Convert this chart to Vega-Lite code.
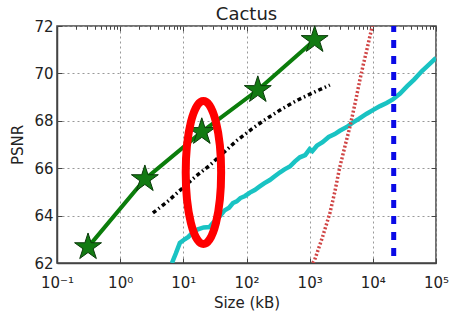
{
  "$schema": "https://vega.github.io/schema/vega-lite/v6.json",
  "width": 379,
  "height": 237,
  "autosize": {"type": "none"},
  "padding": {"left": 57, "top": 26, "right": 13, "bottom": 56},
  "background": "white",
  "title": {"text": "Cactus", "fontSize": 18, "fontWeight": "normal", "font": "DejaVu Sans", "color": "#222", "offset": -5},
  "config": {
    "font": "DejaVu Sans",
    "view": {"stroke": "#444", "strokeWidth": 1.5},
    "axis": {"labelFont": "DejaVu Sans", "titleFont": "DejaVu Sans", "labelColor": "#222", "titleColor": "#222", "tickColor": "#444", "domainColor": "#444", "domainWidth": 1.5}
  },
  "datasets": {
    "stars": [
      {"size": 0.31, "psnr": 62.67},
      {"size": 2.46, "psnr": 65.54},
      {"size": 19.6, "psnr": 67.53},
      {"size": 151, "psnr": 69.3},
      {"size": 1200, "psnr": 71.41}
    ],
    "dashdot": [
      {"size": 3.3, "psnr": 64.11},
      {"size": 5.5, "psnr": 64.57},
      {"size": 15.3, "psnr": 65.63},
      {"size": 26.4, "psnr": 66.13},
      {"size": 70.5, "psnr": 67.17},
      {"size": 122, "psnr": 67.66},
      {"size": 195, "psnr": 68.04},
      {"size": 363, "psnr": 68.5},
      {"size": 650, "psnr": 68.88},
      {"size": 1207, "psnr": 69.22},
      {"size": 2090, "psnr": 69.51}
    ],
    "cyan": [
      {"size": 6.6, "psnr": 62.0}, {"size": 7.6, "psnr": 62.4}, {"size": 8.8, "psnr": 62.85},
      {"size": 10.5, "psnr": 63.0}, {"size": 12, "psnr": 63.1}, {"size": 14.2, "psnr": 63.3},
      {"size": 17, "psnr": 63.42}, {"size": 21, "psnr": 63.5}, {"size": 26, "psnr": 63.52},
      {"size": 30, "psnr": 63.72}, {"size": 34, "psnr": 63.85}, {"size": 38, "psnr": 63.98},
      {"size": 45, "psnr": 64.22}, {"size": 53, "psnr": 64.33}, {"size": 61, "psnr": 64.53},
      {"size": 70, "psnr": 64.6}, {"size": 80, "psnr": 64.74}, {"size": 95, "psnr": 64.83},
      {"size": 113, "psnr": 64.97}, {"size": 135, "psnr": 65.08}, {"size": 160, "psnr": 65.22},
      {"size": 190, "psnr": 65.36}, {"size": 234, "psnr": 65.5}, {"size": 280, "psnr": 65.66},
      {"size": 340, "psnr": 65.83}, {"size": 400, "psnr": 65.95}, {"size": 486, "psnr": 66.07},
      {"size": 580, "psnr": 66.28}, {"size": 700, "psnr": 66.46}, {"size": 850, "psnr": 66.55},
      {"size": 1000, "psnr": 66.8}, {"size": 1100, "psnr": 66.72}, {"size": 1300, "psnr": 66.95},
      {"size": 1600, "psnr": 67.1}, {"size": 2000, "psnr": 67.32}, {"size": 2500, "psnr": 67.44},
      {"size": 3000, "psnr": 67.58}, {"size": 3870, "psnr": 67.74}, {"size": 4800, "psnr": 67.92},
      {"size": 6000, "psnr": 68.08}, {"size": 8000, "psnr": 68.3}, {"size": 10000, "psnr": 68.45},
      {"size": 13000, "psnr": 68.62}, {"size": 16500, "psnr": 68.75}, {"size": 20700, "psnr": 68.9},
      {"size": 27000, "psnr": 69.15}, {"size": 35000, "psnr": 69.46}, {"size": 45000, "psnr": 69.74},
      {"size": 60000, "psnr": 70.1}, {"size": 78000, "psnr": 70.38}, {"size": 100000, "psnr": 70.65}
    ],
    "red": [
      {"size": 1120, "psnr": 62.0}, {"size": 1200, "psnr": 62.13}, {"size": 1600, "psnr": 63.1},
      {"size": 2090, "psnr": 64.11}, {"size": 2500, "psnr": 65.0}, {"size": 3000, "psnr": 66.05},
      {"size": 3600, "psnr": 66.9}, {"size": 4330, "psnr": 67.74}, {"size": 5200, "psnr": 68.7},
      {"size": 6230, "psnr": 69.72}, {"size": 7100, "psnr": 70.4}, {"size": 8030, "psnr": 70.99},
      {"size": 9600, "psnr": 71.9}, {"size": 9900, "psnr": 72.1}
    ],
    "blue": [{"size": 21400}],
    "ellipse": [{"size": 20.8, "psnr": 65.82}]
  },
  "resolve": {"axis": {"x": "independent", "y": "independent"}},
  "layer": [
    {
      "data": {"name": "stars"},
      "mark": {"type": "line", "color": "#0b7d0b", "strokeWidth": 4, "clip": true},
      "encoding": {
        "x": {"field": "size", "type": "quantitative",
              "scale": {"type": "log", "domain": [0.1, 100000], "nice": false},
              "axis": {"title": "Size (kB)", "titleFontSize": 15, "titleFontWeight": "normal", "titlePadding": 5,
                       "values": [0.1, 1, 10, 100, 1000, 10000, 100000],
                       "labelExpr": "'10' + (datum.value < 1 ? '⁻¹' : ['⁰','¹','²','³','⁴','⁵'][round(log(datum.value)/LN10)])",
                       "labelFontSize": 15, "labelPadding": 17, "tickSize": -5, "labelFlush": false,
                       "grid": true, "gridDash": [2, 3], "gridColor": "#999", "gridWidth": 1}},
        "y": {"field": "psnr", "type": "quantitative",
              "scale": {"domain": [62, 72], "nice": false, "zero": false},
              "axis": {"title": "PSNR", "titleFontSize": 15, "titleFontWeight": "normal", "titlePadding": 8,
                       "values": [62, 64, 66, 68, 70, 72], "labelFontSize": 15, "labelPadding": 9, "tickSize": -5,
                       "grid": true, "gridDash": [2, 3], "gridColor": "#999", "gridWidth": 1}}
      }
    },
    {
      "data": {"name": "stars"},
      "mark": {"type": "point", "shape": "M0,-1L0.223,-0.307L0.951,-0.309L0.361,0.117L0.588,0.809L0,0.38L-0.588,0.809L-0.361,0.117L-0.951,-0.309L-0.223,-0.307Z",
               "size": 800, "filled": true, "fill": "#137a13", "stroke": "#0a3a0a", "strokeWidth": 1, "opacity": 1},
      "encoding": {
        "x": {"field": "size", "type": "quantitative",
              "axis": {"title": null, "labels": false, "domain": false, "grid": false, "tickSize": -3,
                       "values": [0.2,0.3,0.4,0.5,0.6,0.7,0.8,0.9,2,3,4,5,6,7,8,9,20,30,40,50,60,70,80,90,200,300,400,500,600,700,800,900,2000,3000,4000,5000,6000,7000,8000,9000,20000,30000,40000,50000,60000,70000,80000,90000]}},
        "y": {"field": "psnr", "type": "quantitative",
              "axis": {"orient": "right", "title": null, "labels": false, "domain": false, "grid": false, "tickSize": -5,
                       "values": [62, 64, 66, 68, 70, 72]}}
      }
    },
    {
      "data": {"name": "dashdot"},
      "mark": {"type": "line", "color": "#000", "strokeWidth": 3.5, "strokeDash": [4, 3, 1.5, 3], "clip": true},
      "encoding": {
        "x": {"field": "size", "type": "quantitative",
              "axis": {"orient": "top", "title": null, "labels": false, "domain": false, "grid": false, "tickSize": -5,
                       "values": [0.1, 1, 10, 100, 1000, 10000, 100000]}},
        "y": {"field": "psnr", "type": "quantitative", "axis": null}
      }
    },
    {
      "data": {"name": "cyan"},
      "mark": {"type": "line", "color": "#19c3c3", "strokeWidth": 4.5, "clip": true},
      "encoding": {
        "x": {"field": "size", "type": "quantitative",
              "axis": {"orient": "top", "title": null, "labels": false, "domain": false, "grid": false, "tickSize": -3,
                       "values": [0.2,0.3,0.4,0.5,0.6,0.7,0.8,0.9,2,3,4,5,6,7,8,9,20,30,40,50,60,70,80,90,200,300,400,500,600,700,800,900,2000,3000,4000,5000,6000,7000,8000,9000,20000,30000,40000,50000,60000,70000,80000,90000]}},
        "y": {"field": "psnr", "type": "quantitative", "axis": null}
      }
    },
    {
      "data": {"name": "red"},
      "mark": {"type": "line", "color": "#d04545", "strokeWidth": 3.5, "strokeDash": [2, 2], "clip": true},
      "encoding": {
        "x": {"field": "size", "type": "quantitative", "axis": null},
        "y": {"field": "psnr", "type": "quantitative", "axis": null}
      }
    },
    {
      "data": {"name": "blue"},
      "mark": {"type": "rule", "color": "#0a0ae6", "strokeWidth": 5, "strokeDash": [8, 8], "strokeDashOffset": 2},
      "encoding": {
        "x": {"field": "size", "type": "quantitative", "axis": null}
      }
    },
    {
      "data": {"name": "ellipse"},
      "mark": {"type": "point", "shape": "M0,-1C0.137,-1,0.248,-0.552,0.248,0C0.248,0.552,0.137,1,0,1C-0.137,1,-0.248,0.552,-0.248,0C-0.248,-0.552,-0.137,-1,0,-1Z",
               "size": 20400, "filled": false, "stroke": "#ff0000", "strokeWidth": 8, "opacity": 1},
      "encoding": {
        "x": {"field": "size", "type": "quantitative", "axis": null},
        "y": {"field": "psnr", "type": "quantitative", "axis": null}
      }
    }
  ]
}
